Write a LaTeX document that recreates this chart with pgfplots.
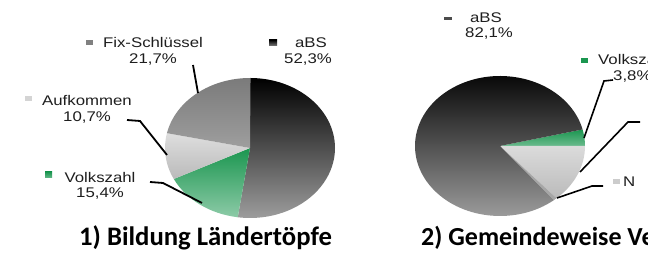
\documentclass[border=0pt]{standalone}
\usepackage{graphicx}
\usepackage{pgfplots}
\pgfplotsset{compat=1.18}
\usepackage{fontspec}
\setmainfont{Liberation Sans}
\newfontfamily\labfont{Liberation Sans}
\newfontfamily\titfont{Carlito}
\usetikzlibrary{shadings}
% shares (percent)
\def\LaBS{52.3}\def\LVolk{15.4}\def\LAuf{10.7}\def\LFix{21.7}
\def\RVolk{3.8}\def\RAuf{13.4}\def\RN{0.7}\def\RaBS{82.1}
\definecolor{txt}{HTML}{1E1E1E}
\definecolor{grn}{HTML}{1B9650}
\newcommand{\lt}[1]{\scalebox{1.2}[1]{#1}}
\newcommand{\slice}[5]{%
  \path[#5] (axis cs:#1,#2) -- ++(#3:85pt and 70pt)
    arc[start angle=#3, end angle=#4, x radius=85pt, y radius=70pt] -- cycle;}
\begin{document}
\begin{tikzpicture}
\pgfmathsetmacro\Aa{90-3.6*\LaBS}
\pgfmathsetmacro\Ab{\Aa-3.6*\LVolk}
\pgfmathsetmacro\Ac{\Ab-3.6*\LAuf}
\pgfmathsetmacro\Ad{\Ac-3.6*\LFix}
\pgfmathsetmacro\Ba{3.6*\RVolk}
\pgfmathsetmacro\Bb{\Ba-3.6*\RVolk}
\pgfmathsetmacro\Bc{\Bb-3.6*\RAuf}
\pgfmathsetmacro\Bd{\Bc-3.6*\RN}
\pgfmathsetmacro\Be{\Bd-3.6*\RaBS}
\begin{axis}[width=648pt, height=253pt,
  scale only axis, xmin=0, xmax=648, ymin=0, ymax=253, axis lines=none,
  clip=false]
% picture frame (invisible)
\path (axis cs:0,0) rectangle (axis cs:648,253);
% left pie
\slice{250}{105}{90}{\Aa}{top color=black, middle color=black!70!white, bottom color=black!38!white}
\slice{250}{105}{\Aa}{\Ab}{top color=grn, bottom color=grn!50!white}
\slice{250}{105}{\Ab}{\Ac}{top color=black!13!white, bottom color=black!27!white}
\slice{250}{105}{\Ac}{\Ad}{top color=black!52!white, bottom color=black!38!white}
% right pie
\slice{500}{107}{\Ba}{\Bb}{top color=grn, bottom color=grn!65!white}
\slice{500}{107}{\Bb}{\Bc}{top color=black!14!white, bottom color=black!27!white}
\slice{500}{107}{\Bc}{\Bd}{fill=black!35!white}
\slice{500}{107}{\Bd}{\Be}{top color=black, middle color=black!88!white, bottom color=black!36!white}
% leader lines
\draw[line width=1.8pt, black] (axis cs:193,188) -- (axis cs:198,160);
\draw[line width=1.8pt, black] (axis cs:127,133) -- (axis cs:140,132) -- (axis cs:167,98);
\draw[line width=1.8pt, black] (axis cs:150,71) -- (axis cs:163,70) -- (axis cs:202,50);
\draw[line width=1.6pt, black] (axis cs:613,173) -- (axis cs:604,172) -- (axis cs:584,115);
\draw[line width=1.6pt, black] (axis cs:580,81) -- (axis cs:628,131) -- (axis cs:640,131);
\draw[line width=1.6pt, black] (axis cs:557,55) -- (axis cs:592,67) -- (axis cs:603,67);
% legend markers
\path[fill=black!50!white] (axis cs:86,208) rectangle (axis cs:93,213);
\path[top color=black, bottom color=black!55!white] (axis cs:269,207.5) rectangle (axis cs:277,213);
\path[fill=black!17!white] (axis cs:25,152) rectangle (axis cs:32,157);
\path[top color=grn, bottom color=grn!70!white] (axis cs:45,75.5) rectangle (axis cs:52,81);
\path[fill=black!70!white] (axis cs:444,232.5) rectangle (axis cs:452,235.5);
\path[fill=grn] (axis cs:581,189.5) rectangle (axis cs:588,194.5);
\path[fill=black!20!white] (axis cs:613,68.5) rectangle (axis cs:620,73.5);
% labels
\begin{scope}[every node/.style={font=\labfont\fontsize{14}{16}\selectfont, text=txt, inner sep=0pt}]
\node[anchor=base] at (axis cs:153,205) {\lt{Fix-Schlüssel}};
\node[anchor=base] at (axis cs:153,189) {\lt{21,7\%}};
\node[anchor=base] at (axis cs:311,205) {\lt{aBS}};
\node[anchor=base] at (axis cs:308,189) {\lt{52,3\%}};
\node[anchor=base] at (axis cs:87,147) {\lt{Aufkommen}};
\node[anchor=base] at (axis cs:87,131) {\lt{10,7\%}};
\node[anchor=base] at (axis cs:100,70) {\lt{Volkszahl}};
\node[anchor=base] at (axis cs:100,55) {\lt{15,4\%}};
\node[anchor=base] at (axis cs:486,230) {\lt{aBS}};
\node[anchor=base] at (axis cs:489,215) {\lt{82,1\%}};
\node[anchor=base west, overlay] at (axis cs:598,188) {\lt{Volkszahl}};
\node[anchor=base west, overlay] at (axis cs:613,172) {\lt{3,8\%}};
\node[anchor=base west, overlay] at (axis cs:623,66) {\lt{N}};
\end{scope}
% titles
\node[anchor=base, overlay, inner sep=0pt, font=\titfont\bfseries\fontsize{26.7}{30}\selectfont, text=black] at (axis cs:205.5,7) {1) Bildung Ländertöpfe};
\node[anchor=base west, overlay, inner sep=0pt, font=\titfont\bfseries\fontsize{26}{30}\selectfont, text=black] at (axis cs:421,7) {2) Gemeindeweise Verteilung};
\end{axis}
\end{tikzpicture}
\end{document}
